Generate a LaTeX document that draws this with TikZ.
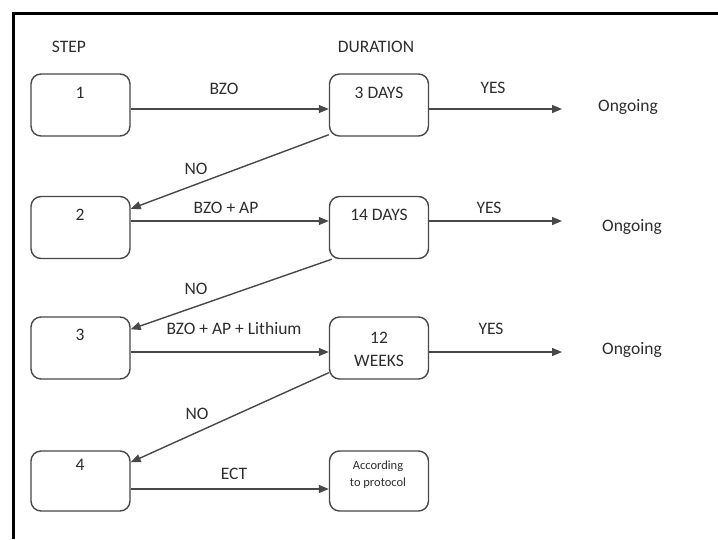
\documentclass[tikz,border=0pt]{standalone}
\usepackage{fontspec}
\setmainfont{Carlito}
\usetikzlibrary{arrows.meta}
\definecolor{ln}{HTML}{484848}
\definecolor{tx}{HTML}{2E2E2E}
\tikzset{
  box/.style={draw=ln, line width=1.4pt, rounded corners=10pt, minimum width=99pt, minimum height=62pt, inner sep=0pt},
  lbl/.style={text=tx, inner sep=0pt, text height=0.64em, text depth=0pt, font=\fontsize{17.5}{20}\selectfont},
  small/.style={text=tx, inner sep=0pt, text height=0.64em, text depth=0pt, font=\fontsize{12.5}{14}\selectfont},
  arr/.style={draw=ln, line width=1.4pt, -{Triangle[length=10pt,width=8pt]}},
}
\begin{document}
\begin{tikzpicture}[x=1pt,y=-1pt]
\useasboundingbox (0,0) rectangle (718,539);
\fill[white] (0,0) rectangle (718,539);
\draw[line width=3pt] (718,13) -- (13,13) -- (13,539);

\node[lbl] (hstep) at (69,49) {STEP};
\node[lbl] (hdur) at (376,49) {DURATION};

\node[box] (s1) at (80.5,105) {};
\node[box] (s2) at (80.5,227.5) {};
\node[box] (s3) at (80.5,348) {};
\node[box, minimum height=60pt] (s4) at (80.5,481) {};
\node[box] (d1) at (379,105) {};
\node[box] (d2) at (379,227.5) {};
\node[box] (d3) at (379,348) {};
\node[box, minimum height=60pt] (d4) at (379,481) {};

\node[lbl] (t1) at (80,95) {1};
\node[lbl] (t2) at (80,217) {2};
\node[lbl] (t3) at (80,337) {3};
\node[lbl] (t4) at (80,467) {4};
\node[lbl] (u1) at (379,95) {3 DAYS};
\node[lbl] (u2) at (379,217) {14 DAYS};
\node[lbl] (u3a) at (379,340) {12};
\node[lbl] (u3b) at (379,363) {WEEKS};
\node[small] (u4a) at (378,466) {According};
\node[small] (u4b) at (378,483) {to protocol};

\node[lbl] (m1) at (224,91) {BZO};
\node[lbl] (m2) at (226,210) {BZO + AP};
\node[lbl] (m3) at (234,331) {BZO + AP + Lithium};
\node[lbl] (m4) at (234,476) {ECT};

\draw[arr] ([yshift=-4pt]s1.east) -- ([yshift=-4pt]d1.west);
\draw[arr] ([yshift=6.5pt]s2.east) -- ([yshift=6.5pt]d2.west);
\draw[arr] ([yshift=-4pt]s3.east) -- ([yshift=-4pt]d3.west);
\draw[arr] ([yshift=-8pt]s4.east) -- ([yshift=-8pt]d4.west);

\node[lbl] (y1) at (493,90) {YES};
\node[lbl] (y2) at (489,210) {YES};
\node[lbl] (y3) at (491,331) {YES};
\node[lbl] (o1) at (628,108) {Ongoing};
\node[lbl] (o2) at (632,228) {Ongoing};
\node[lbl] (o3) at (632,351) {Ongoing};
\coordinate (e1) at (562,109);
\coordinate (e2) at (562,221);
\coordinate (e3) at (562,352);
\draw[arr] ([yshift=-4pt]d1.east) -- (e1);
\draw[arr] ([yshift=6.5pt]d2.east) -- (e2);
\draw[arr] ([yshift=-4pt]d3.east) -- (e3);

\node[lbl] (n1) at (196,171) {NO};
\node[lbl] (n2) at (196,291) {NO};
\node[lbl] (n3) at (197,416) {NO};
\draw[arr] ([yshift=2pt]d1.south west) -- ([yshift=-13pt]s2.north east);
\draw[arr] ([xshift=3pt]d2.south west) -- ([yshift=-13pt]s3.north east);
\draw[arr] ([yshift=7pt]d3.south west) -- ([yshift=-12pt]s4.north east);
\end{tikzpicture}
\end{document}
